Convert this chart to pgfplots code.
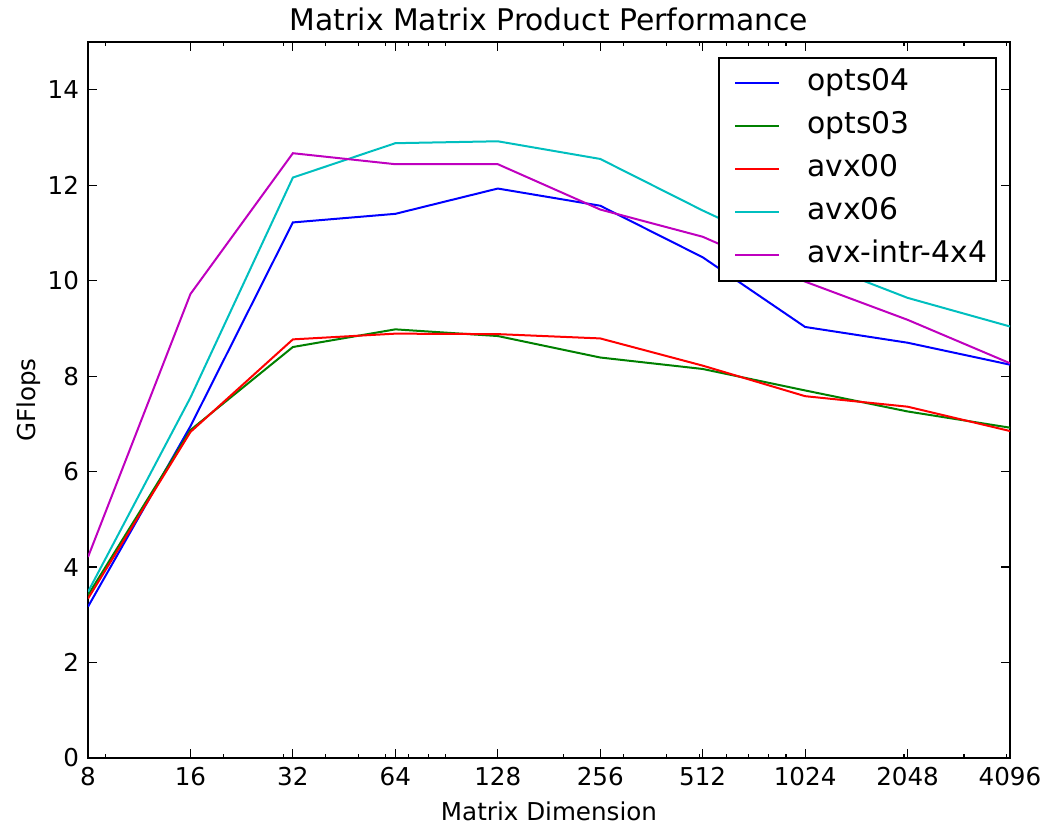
\documentclass[border=0pt]{standalone}
\usepackage{fontspec}
\setmainfont{DejaVu Sans}
\usepackage{pgfplots}
\pgfplotsset{compat=1.18}
\definecolor{mplblue}{rgb}{0,0,1}
\definecolor{mplgreen}{rgb}{0,0.5,0}
\definecolor{mplred}{rgb}{1,0,0}
\definecolor{mplcyan}{rgb}{0,0.75,0.75}
\definecolor{mplmag}{rgb}{0.75,0,0.75}
\begin{document}
\begin{tikzpicture}
\begin{axis}[
  scale only axis,
  width=461pt, height=358pt,
  xmode=log,
  xmin=8, xmax=4096, ymin=0, ymax=15,
  xtick={8,16,32,64,128,256,512,1024,2048,4096},
  xticklabels={8,16,32,64,128,256,512,1024,2048,4096},
  minor xtick={9,20,30,40,50,60,70,80,90,200,300,400,500,600,700,800,900,2000,3000,4000},
  ytick={0,2,4,6,8,10,12,14},
  /pgf/number format/assume math mode=true,
  tick align=inside,
  major tick length=4.5pt, minor tick length=2.2pt,
  tick style={black, line width=0.6pt},
  axis line style={line width=1.1pt},
  ticklabel style={font=\fontsize{12.3}{14}\selectfont},
  xticklabel style={yshift=-1pt},
  yticklabel style={xshift=-1pt},
  xlabel={Matrix Dimension},
  ylabel={GFlops},
  label style={font=\fontsize{12.3}{14}\selectfont},
  xlabel style={yshift=-1pt},
  ylabel style={yshift=-3.5pt},
  title={Matrix Matrix Product Performance},
  title style={font=\fontsize{14.9}{17}\selectfont, yshift=-4pt},
  every axis plot/.append style={line width=1pt},
  legend style={at={(1,1)}, xshift=-6.5pt, yshift=-7.5pt, anchor=north east,
    draw=black, line width=0.9pt, font=\fontsize{14.9}{17}\selectfont,
    inner xsep=2pt, inner ysep=2pt, /tikz/column sep=11pt,
    nodes={text height=11pt, text depth=3.5pt, inner ysep=3.5pt, inner xsep=2.5pt}},
  legend cell align=left,
  legend image code/.code={\path (0pt,0pt); \draw[#1, line width=1pt] (5.5pt,0pt) -- (27.5pt,0pt);},
]
\addplot[mplblue] coordinates {(8,3.17) (16,6.95) (32,11.22) (64,11.40) (128,11.93) (256,11.57) (512,10.49) (1024,9.03) (2048,8.70) (4096,8.24)};
\addlegendentry{opts04}
\addplot[mplgreen] coordinates {(8,3.41) (16,6.87) (32,8.61) (64,8.98) (128,8.84) (256,8.39) (512,8.15) (1024,7.70) (2048,7.26) (4096,6.92)};
\addlegendentry{opts03}
\addplot[mplred] coordinates {(8,3.34) (16,6.83) (32,8.77) (64,8.89) (128,8.88) (256,8.79) (512,8.22) (1024,7.58) (2048,7.36) (4096,6.85)};
\addlegendentry{avx00}
\addplot[mplcyan] coordinates {(8,3.48) (16,7.55) (32,12.16) (64,12.88) (128,12.92) (256,12.55) (512,11.47) (1024,10.47) (2048,9.64) (4096,9.04)};
\addlegendentry{avx06}
\addplot[mplmag] coordinates {(8,4.21) (16,9.72) (32,12.67) (64,12.44) (128,12.44) (256,11.49) (512,10.92) (1024,9.98) (2048,9.18) (4096,8.27)};
\addlegendentry{avx-intr-4x4}
\end{axis}
\pgfresetboundingbox
\path[use as bounding box] ([xshift=-44pt,yshift=-33pt]current axis.south west) rectangle ([xshift=19.5pt,yshift=21pt]current axis.north east);
\end{tikzpicture}
\end{document}
